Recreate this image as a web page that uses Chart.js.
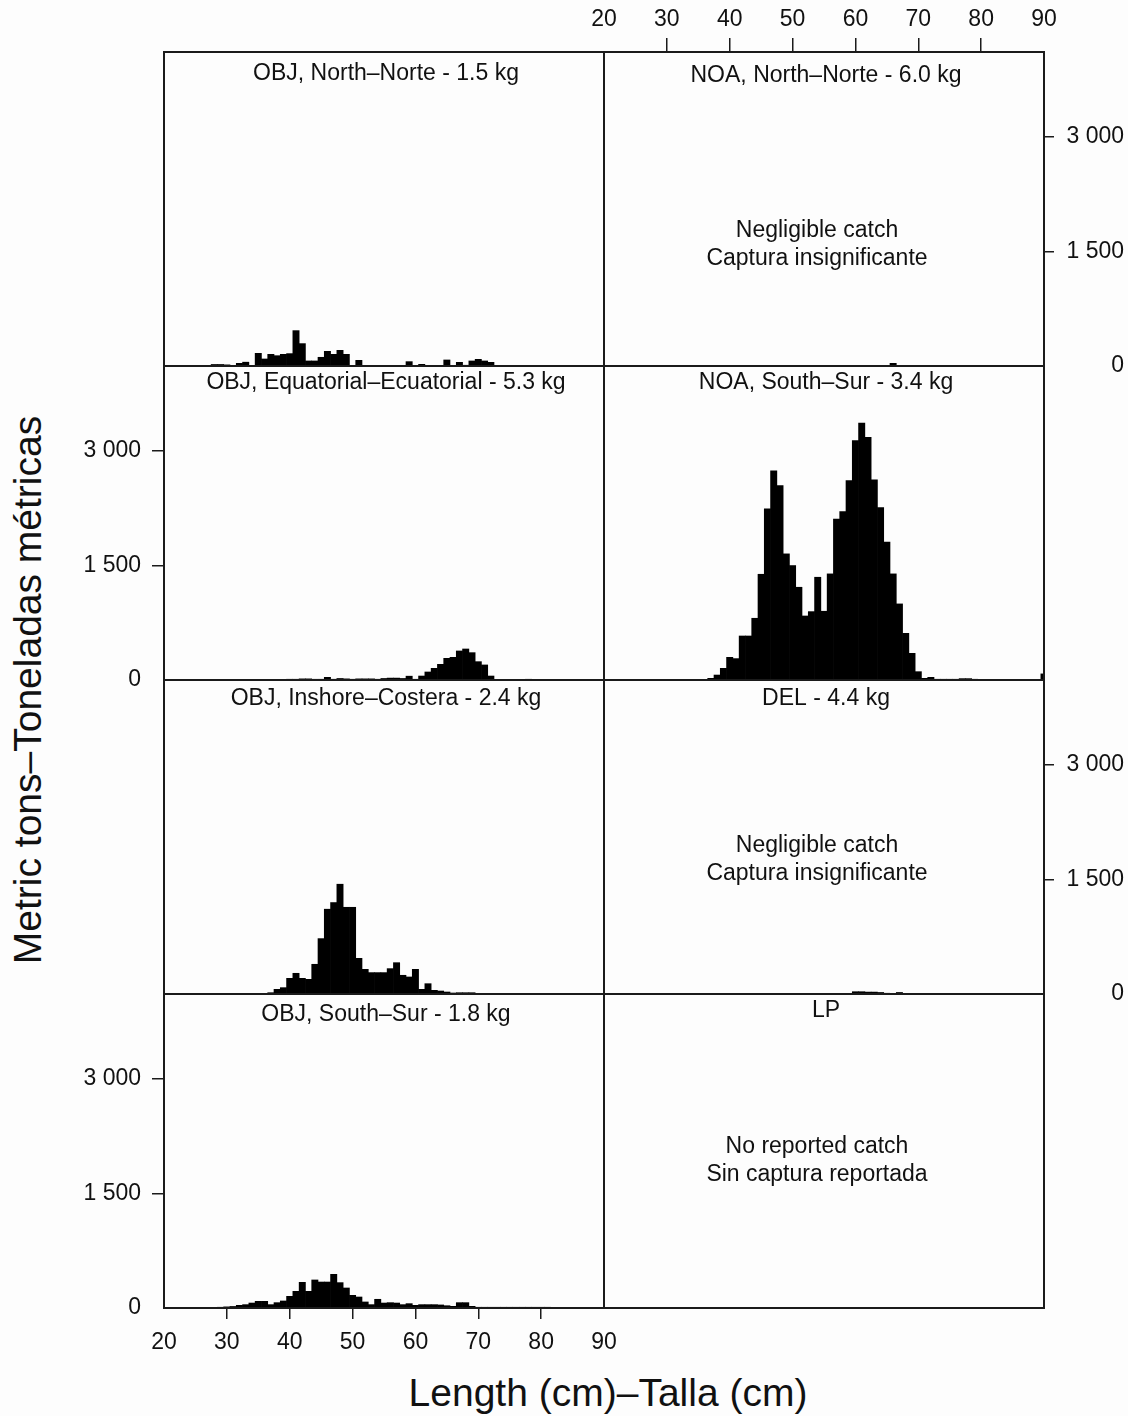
<!DOCTYPE html>
<html>
<head>
<meta charset="utf-8">
<title>Length frequencies by fishery</title>
<script src="https://cdn.jsdelivr.net/npm/chart.js@4.4.1/dist/chart.umd.min.js"></script>
<style>
  html, body { margin: 0; padding: 0; background: #fdfdfd; }
  #wrap {
    position: relative; width: 1128px; height: 1416px; overflow: hidden;
    font-family: "Liberation Sans", Arial, Helvetica, sans-serif; color: #111;
  }
  #wrap canvas { position: absolute; }
  .axis-title { position: absolute; font-size: 39px; line-height: 42px; height: 42px; white-space: nowrap; text-align: center; }
  #xTitle { left: 0; width: 1216px; top: 1372px; }
  #yTitle { left: -322px; width: 700px; top: 669px; transform: rotate(-90deg); transform-origin: 50% 50%; }
</style>
</head>
<body>
<div id="wrap">
  <div class="axis-title" id="xTitle">Length (cm)–Talla (cm)</div>
  <div class="axis-title" id="yTitle">Metric tons–Toneladas métricas</div>
</div>
<script>
// Catch (metric tons) per 1-cm length class; each series starts at its *From length
const objNorthFrom = 28;
const objNorthTons = [20, 20, 15, 0, 35, 50, 0, 166, 92, 153, 135, 153, 162, 463, 293, 66, 66, 114, 192, 153,
  205, 153, 0, 74, 0, 0, 0, 0, 0, 0, 0, 57, 0, 22, 0, 0, 0, 79, 0, 48, 10, 66, 87, 66, 48];

const objEquatorialFrom = 40;
const objEquatorialTons = [10, 10, 15, 15, 5, 10, 35, 10, 20, 15, 10, 15, 15, 15, 10, 20, 25, 25, 20, 50,
  5, 52, 105, 153, 205, 284, 297, 380, 406, 358, 240, 197, 52, 0, 0, 0, 0, 0, 8];

const objInshoreFrom = 37;
const objInshoreTons = [17, 61, 83, 205, 271, 205, 192, 389, 725, 1110, 1197, 1437, 1135, 1135, 467, 323,
  280, 280, 280, 332, 410, 245, 223, 323, 61, 135, 48, 39, 26, 13, 17, 17, 17];

const objSouthFrom = 29;
const objSouthTons = [10, 15, 20, 35, 44, 65, 87, 87, 44, 70, 92, 153, 218, 336, 218, 367, 340, 340, 441, 332,
  262, 166, 144, 79, 44, 114, 65, 70, 65, 44, 57, 35, 44, 44, 44, 40, 30, 22, 70, 70, 22, 8, 5, 5, 8, 5, 5, 5,
  5, 5, 5, 5, 5];

const noaNorthFrom = 65;
const noaNorthTons = [0, 35, 0];

const noaSouthFrom = 37;
const noaSouthTons = [22, 65, 153, 297, 280, 576, 576, 808, 1384, 2240, 2738, 2546, 1651, 1498, 1214, 838, 895,
  1345, 900, 1389, 2105, 2205, 2611, 3135, 3363, 3175, 2620, 2258, 1804, 1389, 996, 611, 349, 109, 22, 35, 10,
  10, 10, 10, 18, 18, 10, 8, 0, 0, 0, 0, 0, 0, 0, 0, 0, 80];

const delFrom = 60;
const delTons = [30, 30, 25, 25, 20, 10, 0, 20];

const lpFrom = 20;
const lpTons = [];

// axis ticks
const lengthTicks = [20, 30, 40, 50, 60, 70, 80, 90];
const tonTicks = [0, 1500, 3000];
const LENGTH_MIN = 20, LENGTH_MAX = 90;
const TON_MAX = 4110;

// page geometry
const COL_LEFT = [164, 604];
const ROW_TOP = [52, 366, 680, 994];
const PANEL_W = 440, PANEL_H = 314;
const MARGIN = 90;
const Y_AXIS_W = 80, X_AXIS_H = 50;

const negligible = ['Negligible catch', 'Captura insignificante'];

const panels = [
  { col: 0, row: 0, title: 'OBJ, North–Norte - 1.5 kg', titleY: 22, from: objNorthFrom, tons: objNorthTons },
  { col: 1, row: 0, title: 'NOA, North–Norte - 6.0 kg', titleY: 24, from: noaNorthFrom, tons: noaNorthTons,
    notes: negligible, noteY: 179 },
  { col: 0, row: 1, title: 'OBJ, Equatorial–Ecuatorial - 5.3 kg', titleY: 17, from: objEquatorialFrom, tons: objEquatorialTons },
  { col: 1, row: 1, title: 'NOA, South–Sur - 3.4 kg', titleY: 17, from: noaSouthFrom, tons: noaSouthTons },
  { col: 0, row: 2, title: 'OBJ, Inshore–Costera - 2.4 kg', titleY: 19, from: objInshoreFrom, tons: objInshoreTons },
  { col: 1, row: 2, title: 'DEL - 4.4 kg', titleY: 19, from: delFrom, tons: delTons,
    notes: negligible, noteY: 166 },
  { col: 0, row: 3, title: 'OBJ, South–Sur - 1.8 kg', titleY: 21, from: objSouthFrom, tons: objSouthTons },
  { col: 1, row: 3, title: 'LP', titleY: 17, from: lpFrom, tons: lpTons,
    notes: ['No reported catch', 'Sin captura reportada'], noteY: 153 }
];

const FONT = '"Liberation Sans", Arial, Helvetica, sans-serif';
Chart.defaults.font.family = FONT;
Chart.defaults.font.size = 23;
Chart.defaults.color = '#111';

// outline of each panel
const panelFrame = {
  id: 'panelFrame',
  afterDraw(chart) {
    const { ctx, chartArea: a } = chart;
    ctx.save();
    ctx.strokeStyle = '#1b1b1b';
    ctx.lineWidth = 2;
    ctx.strokeRect(a.left, a.top, a.right - a.left, a.bottom - a.top);
    ctx.restore();
  }
};

// panel heading and the notes in the empty panels (notes sit a little left of centre)
const panelText = {
  id: 'panelText',
  afterDraw(chart, args, opts) {
    const { ctx, chartArea: a } = chart;
    const cx = (a.left + a.right) / 2;
    ctx.save();
    ctx.fillStyle = '#111';
    ctx.font = '23px ' + FONT;
    ctx.textAlign = 'center';
    ctx.textBaseline = 'middle';
    ctx.fillText(opts.title, cx + 2, a.top + opts.titleY);
    (opts.notes || []).forEach((line, i) => ctx.fillText(line, cx - 7, a.top + opts.noteY + i * 28));
    ctx.restore();
  }
};

const fmtTons = v => String(v).replace(/\B(?=(\d{3})+(?!\d))/g, ' ');
const tickMark = ends => c => (c.tick && ends.includes(c.tick.value)) ? 'rgba(0,0,0,0)' : '#1b1b1b';

const wrap = document.getElementById('wrap');

function makePanel(p) {
  const x0 = COL_LEFT[p.col], y0 = ROW_TOP[p.row];
  const canvas = document.createElement('canvas');
  canvas.width = PANEL_W + 2 * MARGIN;
  canvas.height = PANEL_H + 2 * MARGIN;
  canvas.style.left = (x0 - MARGIN) + 'px';
  canvas.style.top = (y0 - MARGIN) + 'px';
  wrap.appendChild(canvas);

  const showLeft = p.col === 0 && (p.row === 1 || p.row === 3);
  const showRight = p.col === 1 && (p.row === 0 || p.row === 2);
  const showTop = p.col === 1 && p.row === 0;
  const showBottom = p.col === 0 && p.row === 3;
  const showX = showTop || showBottom;
  const showY = showLeft || showRight;

  new Chart(canvas, {
    type: 'bar',
    data: {
      datasets: [{
        data: p.tons.map((t, i) => ({ x: p.from + i, y: t })),
        backgroundColor: '#000',
        borderWidth: 0,
        barPercentage: 1,
        categoryPercentage: 1
      }]
    },
    options: {
      responsive: false,
      animation: false,
      devicePixelRatio: 1,
      events: [],
      layout: {
        padding: {
          left: MARGIN - (showLeft ? Y_AXIS_W : 0),
          right: MARGIN - (showRight ? Y_AXIS_W : 0),
          top: MARGIN - (showTop ? X_AXIS_H : 0),
          bottom: MARGIN - (showBottom ? X_AXIS_H : 0)
        }
      },
      plugins: {
        legend: { display: false },
        tooltip: { enabled: false },
        panelText: { title: p.title, titleY: p.titleY, notes: p.notes, noteY: p.noteY }
      },
      scales: {
        x: {
          type: 'linear',
          position: showTop ? 'top' : 'bottom',
          display: showX,
          min: LENGTH_MIN,
          max: LENGTH_MAX,
          offset: false,
          afterBuildTicks: s => { s.ticks = lengthTicks.map(v => ({ value: v })); },
          afterFit: s => { s.height = showX ? X_AXIS_H : 0; },
          ticks: { padding: showTop ? 5 : 10, maxRotation: 0, autoSkip: false },
          grid: {
            offset: false,
            drawOnChartArea: false,
            tickLength: showTop ? 14 : 11,
            lineWidth: 1.5,
            tickColor: tickMark([LENGTH_MIN, LENGTH_MAX])
          },
          border: { display: false }
        },
        y: {
          position: showRight ? 'right' : 'left',
          display: showY,
          min: 0,
          max: TON_MAX,
          afterBuildTicks: s => { s.ticks = tonTicks.map(v => ({ value: v })); },
          afterFit: s => { s.width = showY ? Y_AXIS_W : 0; },
          ticks: {
            padding: showRight ? 7 : 11,
            crossAlign: showRight ? 'far' : 'near',
            callback: v => fmtTons(v)
          },
          grid: {
            drawOnChartArea: false,
            tickLength: showRight ? 10 : 12,
            lineWidth: 1.5,
            tickColor: tickMark([0])
          },
          border: { display: false }
        }
      }
    },
    plugins: [panelFrame, panelText]
  });
}

panels.forEach(makePanel);
</script>
</body>
</html>
